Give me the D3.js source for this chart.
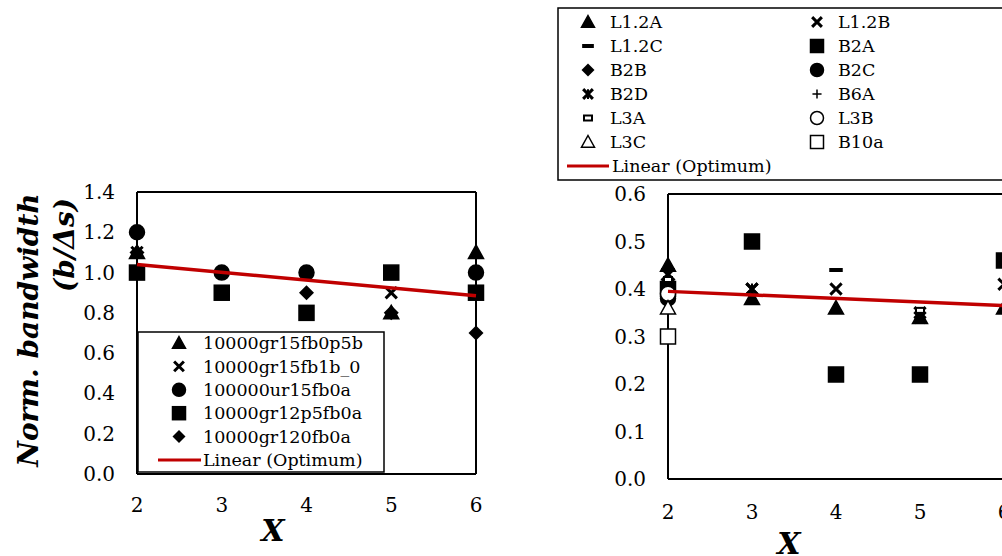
<!DOCTYPE html>
<html>
<head>
<meta charset="utf-8">
<script src="https://cdn.jsdelivr.net/npm/d3@7"></script>
<style>
  body { margin: 0; background: #fff; }
  text { font-family: "DejaVu Serif", "Liberation Serif", serif; fill: #000; }
</style>
</head>
<body>
<div id="chart"></div>
<script>
let width = 1002, height = 556;

// ---- data ----
const xValues = [2, 3, 4, 5, 6];

// left panel
const leftNames = ["10000gr15fb0p5b", "10000gr15fb1b_0", "100000ur15fb0a", "10000gr12p5fb0a", "10000gr120fb0a"];
const leftShapes = ["triangle", "x", "circle", "square", "diamond"];
const left_gr15fb0p5b = [1.1, null, null, 0.8, 1.1];
const left_gr15fb1b_0 = [1.1, null, null, 0.9, null];
const left_ur15fb0a = [1.2, 1.0, 1.0, null, 1.0];
const left_gr12p5fb0a = [1.0, 0.9, 0.8, 1.0, 0.9];
const left_gr120fb0a = [1.1, null, 0.9, 0.8, 0.7];
const leftSeries = [left_gr15fb0p5b, left_gr15fb1b_0, left_ur15fb0a, left_gr12p5fb0a, left_gr120fb0a];
const leftTrend = [1.04, 0.885];   // at x = 2 and x = 6
const leftTicks = [0, 0.2, 0.4, 0.6, 0.8, 1.0, 1.2, 1.4];

// right panel
const rightNames = ["L1.2A", "L1.2B", "L1.2C", "B2A", "B2B", "B2C", "B2D", "B6A", "L3A", "L3B", "L3C", "B10a"];
const rightShapes = ["triangle", "x", "dash", "square", "diamond", "circle", "xbar", "plus", "smalldash", "ocircle", "otriangle", "osquare"];
const r_L12A = [0.45, 0.38, 0.36, 0.34, 0.36];
const r_L12B = [0.43, 0.40, 0.40, 0.35, 0.41];
const r_L12C = [0.44, null, 0.44, null, null];
const r_B2A = [0.40, 0.50, 0.22, 0.22, 0.46];
const r_B2B = [0.42, null, null, null, null];
const r_B2C = [0.38, null, null, null, null];
const r_B2D = [0.41, 0.40, null, 0.34, null];
const r_B6A = [0.40, null, null, null, null];
const r_L3A = [0.42, null, null, 0.355, null];
const r_L3B = [0.39, null, null, null, null];
const r_L3C = [0.36, null, null, null, null];
const r_B10a = [0.30, null, null, null, null];
const rightSeries = [r_L12A, r_L12B, r_L12C, r_B2A, r_B2B, r_B2C, r_B2D, r_B6A, r_L3A, r_L3B, r_L3C, r_B10a];
const rightTrend = [0.395, 0.365];
const rightTicks = [0, 0.1, 0.2, 0.3, 0.4, 0.5, 0.6];

const svg = d3.select("#chart").append("svg")
  .attr("width", width).attr("height", height);

// draws a marker of a given kind centred at 0,0
function marker(g, kind, s) {
  let h = s / 2;
  if (kind === "triangle" || kind === "otriangle") {
    g.append("path").attr("d", `M0,${-h}L${h},${h * 0.8}L${-h},${h * 0.8}Z`)
      .attr("fill", kind === "triangle" ? "#000" : "#fff").attr("stroke", "#000").attr("stroke-width", 1.5);
  } else if (kind === "square" || kind === "osquare") {
    g.append("rect").attr("x", -h).attr("y", -h).attr("width", s).attr("height", s)
      .attr("fill", kind === "square" ? "#000" : "#fff").attr("stroke", "#000").attr("stroke-width", 1.5);
  } else if (kind === "circle" || kind === "ocircle") {
    g.append("circle").attr("r", h)
      .attr("fill", kind === "circle" ? "#000" : "#fff").attr("stroke", "#000").attr("stroke-width", 1.5);
  } else if (kind === "diamond") {
    g.append("path").attr("d", `M0,${-h}L${h},0L0,${h}L${-h},0Z`).attr("fill", "#000");
  } else if (kind === "x" || kind === "xbar") {
    let k = h * 0.75;
    g.append("path").attr("d", `M${-k},${-k}L${k},${k}M${k},${-k}L${-k},${k}`)
      .attr("stroke", "#000").attr("stroke-width", 3);
    if (kind === "xbar")
      g.append("path").attr("d", `M0,${-k}L0,${k}`).attr("stroke", "#000").attr("stroke-width", 2);
  } else if (kind === "plus") {
    let k = h * 0.7;
    g.append("path").attr("d", `M${-k},0L${k},0M0,${-k}L0,${k}`).attr("stroke", "#000").attr("stroke-width", 1.5);
  } else if (kind === "dash") {
    g.append("rect").attr("x", -h * 0.9).attr("y", -2).attr("width", s * 0.9).attr("height", 4).attr("fill", "#000");
  } else if (kind === "smalldash") {
    g.append("rect").attr("x", -4).attr("y", -2.5).attr("width", 8).attr("height", 5)
      .attr("fill", "#fff").attr("stroke", "#000").attr("stroke-width", 2);
  }
}

function panel(opt) {
  let x = d3.scaleLinear().domain([2, 6]).range([opt.left, opt.right]);
  let y = d3.scaleLinear().domain([0, opt.ymax]).range([opt.bottom, opt.top]);

  // frame
  let frame = svg.append("g").attr("fill", "none").attr("stroke", "#000").attr("stroke-width", 2);
  frame.append("line").attr("x1", opt.left).attr("x2", opt.right).attr("y1", opt.top).attr("y2", opt.top);
  frame.append("line").attr("x1", opt.left).attr("x2", opt.right).attr("y1", opt.bottom).attr("y2", opt.bottom);
  frame.append("line").attr("x1", opt.left).attr("x2", opt.left).attr("y1", opt.top).attr("y2", opt.bottom);
  frame.append("line").attr("x1", opt.right).attr("x2", opt.right).attr("y1", opt.top).attr("y2", opt.bottom);

  // y axis labels
  svg.append("g").selectAll("text").data(opt.yTicks).join("text")
    .attr("x", opt.left - 22).attr("y", d => y(d)).attr("dy", "0.35em")
    .attr("text-anchor", "end").attr("font-size", 20).text(d => d.toFixed(1));

  // x axis labels
  svg.append("g").selectAll("text").data(xValues).join("text")
    .attr("x", d => x(d)).attr("y", opt.bottom + opt.xLabOff).attr("dy", "0.35em")
    .attr("text-anchor", "middle").attr("font-size", 20).text(d => d);

  // points
  opt.series.forEach((vals, i) => {
    vals.forEach((v, j) => {
      if (v == null) return;
      let g = svg.append("g").attr("transform", `translate(${x(xValues[j])},${y(v)})`);
      marker(g, opt.shapes[i], 15);
    });
  });

  // trend line
  svg.append("line")
    .attr("x1", x(2)).attr("y1", y(opt.trend[0]))
    .attr("x2", x(6)).attr("y2", y(opt.trend[1]))
    .attr("stroke", "#c00000").attr("stroke-width", 3.5);

  // x title
  svg.append("text").attr("x", opt.xTitleX).attr("y", opt.xTitleY)
    .attr("text-anchor", "middle").attr("font-size", 30)
    .attr("font-weight", "bold").attr("font-style", "italic").text("X");
}

// left panel
panel({ left: 137, right: 476, top: 192, bottom: 474, ymax: 1.4, yTicks: leftTicks, xLabOff: 31,
  series: leftSeries, shapes: leftShapes, trend: leftTrend, xTitleX: 273, xTitleY: 541 });

// left legend
let lg = svg.append("g");
lg.append("rect").attr("x", 138).attr("y", 332).attr("width", 246).attr("height", 140)
  .attr("fill", "#fff").attr("stroke", "#000").attr("stroke-width", 1.5);
leftNames.forEach((name, i) => {
  let yy = 343 + i * 23.4;
  marker(lg.append("g").attr("transform", `translate(179,${yy})`), leftShapes[i], 13);
  lg.append("text").attr("x", 203).attr("y", yy).attr("dy", "0.35em").attr("font-size", 17.5).text(name);
});
lg.append("line").attr("x1", 158).attr("x2", 201).attr("y1", 460).attr("y2", 460)
  .attr("stroke", "#c00000").attr("stroke-width", 3);
lg.append("text").attr("x", 203).attr("y", 460).attr("dy", "0.35em").attr("font-size", 17.5).text("Linear (Optimum)");

// left y title
svg.append("text").attr("transform", "translate(38,330) rotate(-90)")
  .attr("text-anchor", "middle").attr("font-size", 28)
  .attr("font-weight", "bold").attr("font-style", "italic").text("Norm. bandwidth");
svg.append("text").attr("transform", "translate(74,245) rotate(-90)")
  .attr("text-anchor", "middle").attr("font-size", 28)
  .attr("font-weight", "bold").attr("font-style", "italic").text("(b/Δs)");

// right panel
panel({ left: 668, right: 1004, top: 194, bottom: 479, ymax: 0.6, yTicks: rightTicks, xLabOff: 33,
  series: rightSeries, shapes: rightShapes, trend: rightTrend, xTitleX: 789, xTitleY: 554 });

// right legend
let rg = svg.append("g");
rg.append("rect").attr("x", 558).attr("y", 8).attr("width", 460).attr("height", 172)
  .attr("fill", "#fff").attr("stroke", "#000").attr("stroke-width", 1.5);
rightNames.forEach((name, i) => {
  let col = i % 2, row = Math.floor(i / 2);
  let yy = 22 + row * 24;
  let sx = col === 0 ? 588 : 817, tx = col === 0 ? 610 : 838;
  marker(rg.append("g").attr("transform", `translate(${sx},${yy})`), rightShapes[i], 13);
  rg.append("text").attr("x", tx).attr("y", yy).attr("dy", "0.35em").attr("font-size", 17.5).text(name);
});
rg.append("line").attr("x1", 567).attr("x2", 609).attr("y1", 166).attr("y2", 166)
  .attr("stroke", "#c00000").attr("stroke-width", 3);
rg.append("text").attr("x", 612).attr("y", 166).attr("dy", "0.35em").attr("font-size", 17.5).text("Linear (Optimum)");
</script>
</body>
</html>
